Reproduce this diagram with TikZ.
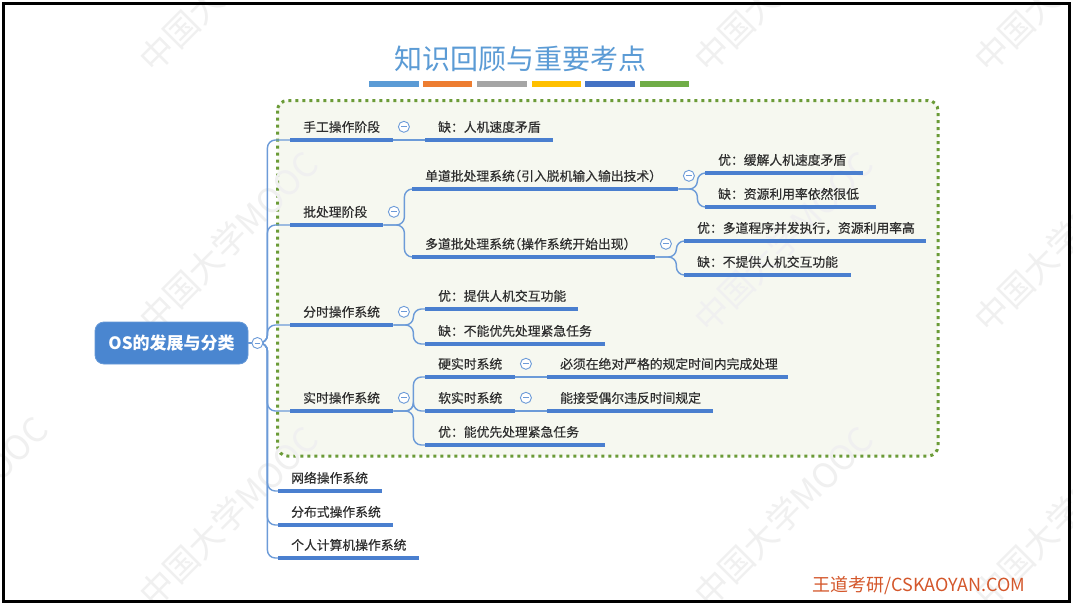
\documentclass[tikz,border=0pt]{standalone}
\usepackage{fontspec}
\setmainfont{Noto Sans CJK SC}
\newfontfamily\topicfont[FakeBold=0.45]{Noto Sans CJK SC}
\usetikzlibrary{calc}
\definecolor{ublue}{HTML}{4A7FCF}
\definecolor{cblue}{HTML}{6C9BD8}
\definecolor{rootblue}{HTML}{4A86D0}
\definecolor{titleblue}{HTML}{5B9BD5}
\definecolor{dotgreen}{HTML}{6B9B37}
\definecolor{boxfill}{HTML}{F6F8F0}
\definecolor{txt}{HTML}{2E2E2E}
\definecolor{webred}{HTML}{D4572B}
\definecolor{barblue}{HTML}{5B9BD5}
\definecolor{barorange}{HTML}{ED7D31}
\definecolor{bargray}{HTML}{A5A5A5}
\definecolor{baryellow}{HTML}{FFC000}
\definecolor{bardblue}{HTML}{4472C4}
\definecolor{bargreen}{HTML}{70AD47}
\newcommand\tp[2]{\makebox[\dimexpr#1pt-26pt\relax][l]{#2}}
\newcommand\hp{\addfontfeatures{RawFeature=+halt}}
\begin{document}
\begin{tikzpicture}[x=1pt,y=-1pt,
  topic/.style={anchor=south west, inner xsep=13pt, inner ysep=5pt,
    text height=10pt, text depth=3pt, text=txt,
    font=\topicfont\fontsize{12.8}{14}\selectfont},
  rootbox/.style={fill=rootblue, draw=rootblue!85!white, line width=0.8pt,
    rounded corners=9pt, minimum width=153pt, minimum height=42pt,
    text=white, font=\bfseries\fontsize{17}{20}\selectfont},
  uline/.style={ublue, line width=3.2pt},
  conn/.style={cblue, line width=1.4pt, rounded corners=8pt},
  btn/.style={circle, draw=cblue, fill=white, line width=0.9pt,
    minimum size=11pt, inner sep=0pt,
    path picture={\draw[cblue, line width=0.9pt]
      ([xshift=-2.6pt]path picture bounding box.center) --
      ([xshift=2.6pt]path picture bounding box.center);}},
  wmark/.style={rotate=45, anchor=west, text=black!6,
    font=\fontsize{34}{36}\selectfont, inner sep=0pt}
]
\useasboundingbox (0,0) rectangle (1073,605);
\fill[white] (0,0) rectangle (1073,605);
% green dotted box
\draw[dotgreen, line width=3pt, dash pattern=on 3pt off 4pt, fill=boxfill,
  rounded corners=10pt] (277.5,100.5) rectangle (938,456);
% watermarks
\foreach \wx in {145,700,980}
  \foreach \wy in {65,325,600}
    \node[wmark] at (\wx,\wy) {中国大学MOOC};
\node[wmark] at (-125,590) {中国大学MOOC};
% title
\node[font=\fontsize{28}{32}\selectfont, text=titleblue] (title) at (520,59) {知识回顾与重要考点};
\fill[barblue]   (369,81) rectangle (419,87);
\fill[barorange] (423,81) rectangle (472,87);
\fill[bargray]   (477,81) rectangle (527,87);
\fill[baryellow] (532,81) rectangle (581,87);
\fill[bardblue]  (585,81) rectangle (635,87);
\fill[bargreen]  (640,81) rectangle (689,87);
% root
\node[rootbox] (root) at (171.5,343) {OS的发展与分类};
% topics
\node[topic] (t1)   at (290,140) {\tp{103}{手工操作阶段}};
\node[topic] (t1c)  at (425,140) {\tp{128}{缺：人机速度矛盾}};
\node[topic] (t2)   at (290,225) {\tp{93}{批处理阶段}};
\node[topic] (t21)  at (412,189) {\tp{266}{单道批处理系统{\hp（}引入脱机输入输出技术{\hp）}}};
\node[topic] (t211) at (705,173) {\tp{158}{优：缓解人机速度矛盾}};
\node[topic] (t212) at (705,207) {\tp{171}{缺：资源利用率依然很低}};
\node[topic] (t22)  at (412,257) {\tp{243}{多道批处理系统{\hp（}操作系统开始出现{\hp）}}};
\node[topic] (t221) at (684,241) {\tp{242}{优：多道程序并发执行，资源利用率高}};
\node[topic] (t222) at (684,275) {\tp{167}{缺：不提供人机交互功能}};
\node[topic] (t3)   at (290,325) {\tp{103}{分时操作系统}};
\node[topic] (t31)  at (425,309) {\tp{153}{优：提供人机交互功能}};
\node[topic] (t32)  at (425,344) {\tp{180}{缺：不能优先处理紧急任务}};
\node[topic] (t4)   at (290,411) {\tp{103}{实时操作系统}};
\node[topic] (t41)  at (425,377) {\tp{90}{硬实时系统}};
\node[topic] (t411) at (547,377) {\tp{241}{必须在绝对严格的规定时间内完成处理}};
\node[topic] (t42)  at (425,411) {\tp{90}{软实时系统}};
\node[topic] (t421) at (547,411) {\tp{166}{能接受偶尔违反时间规定}};
\node[topic] (t43)  at (425,445) {\tp{180}{优：能优先处理紧急任务}};
\node[topic] (t5)   at (278,491) {\tp{104}{网络操作系统}};
\node[topic] (t6)   at (278,525) {\tp{115}{分布式操作系统}};
\node[topic] (t7)   at (278,558) {\tp{141}{个人计算机操作系统}};
% connectors
\foreach \c in {t1,t2,t3,t4,t5,t6,t7}
  \draw[conn] (root.east) -- ++(19,0) |- (\c.south west);
\draw[conn] (t1.south east) -- (t1c.south west);
\foreach \c in {t21,t22}
  \draw[conn] (t2.south east) -- ++(21,0) |- (\c.south west);
\foreach \c in {t211,t212}
  \draw[conn] (t21.south east) -- ++(19,0) |- (\c.south west);
\foreach \c in {t221,t222}
  \draw[conn] (t22.south east) -- ++(21,0) |- (\c.south west);
\foreach \c in {t31,t32}
  \draw[conn] (t3.south east) -- ++(20,0) |- (\c.south west);
\foreach \c in {t41,t42,t43}
  \draw[conn] (t4.south east) -- ++(20,0) |- (\c.south west);
\draw[conn] (t41.south east) -- (t411.south west);
\draw[conn] (t42.south east) -- (t421.south west);
% underlines
\foreach \n in {t1,t1c,t2,t21,t211,t212,t22,t221,t222,t3,t31,t32,t4,t41,t411,t42,t421,t43,t5,t6,t7}
  \draw[uline] (\n.south west) -- (\n.south east);
% collapse buttons
\node[btn] (broot) at ([xshift=9pt]root.east) {};
\foreach \n in {t1,t2,t21,t22,t3,t4,t41,t42}
  \node[btn] (b\n) at ([xshift=10.5pt,yshift=1.5pt]\n.east) {};
% website
\node[text=webred, font=\fontsize{18}{20}\selectfont] (web) at (919,586) {王道考研/CSKAOYAN.COM};
% frame
\draw[line width=3pt] (3.5,3) rectangle (1069.5,601.5);
\end{tikzpicture}
\end{document}
